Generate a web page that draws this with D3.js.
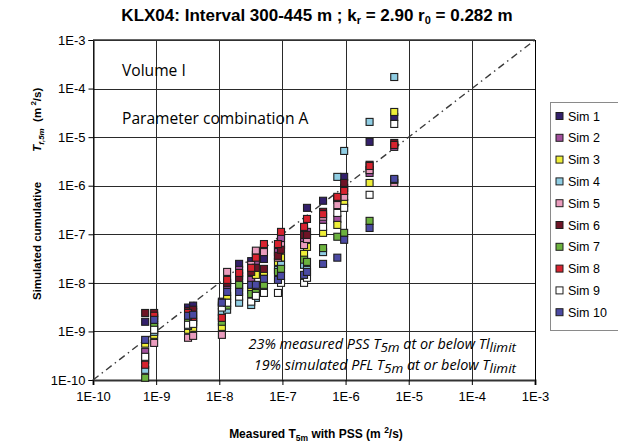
<!DOCTYPE html>
<html>
<head>
<meta charset="utf-8">
<script src="https://cdn.jsdelivr.net/npm/d3@7"></script>
<style>
  body { margin: 0; background: #fff; }
  svg { display: block; }
  text { font-family: "Liberation Sans", Arial, sans-serif; }
</style>
</head>
<body>
<svg id="chart" width="618" height="446"></svg>
<script>
// Measured T5m (PSS) for each test section, m2/s
const measured = [6.7e-10, 9.3e-10, 3.2e-9, 3.85e-9, 1.1e-8, 1.33e-8, 2.06e-8, 3.2e-8, 3.8e-8, 5.1e-8,
                  8.5e-8, 9.5e-8, 2.2e-7, 2.45e-7, 4.4e-7, 7.4e-7, 9.5e-7, 2.4e-6, 5.9e-6];

// Simulated cumulative Tf,5m per realisation, same order as `measured`
const sim1  = [1.58e-9, 1.9e-9, 3.1e-9, 3.4e-9, 4.1e-9, 4.7e-9, 2.46e-8, 2.8e-8, 3.8e-8, 3.1e-8,
               4.8e-8, 9.3e-8, 1.23e-7, 3.5e-7, 4.9e-7, 5.1e-7, 1.52e-6, 8.0e-6, 2.6e-5];
const sim2  = [3.8e-10, 1.37e-9, 1.9e-9, 2.5e-9, 2.1e-9, 9.1e-9, 1.85e-8, 1.15e-8, 2.7e-8, 5.2e-8,
               4.3e-8, 8.4e-8, 7.7e-8, 1.12e-7, 1.98e-7, 2.07e-7, 9.0e-7, 1.83e-6, 6.3e-6];
const sim3  = [5.6e-10, 8.5e-10, 1.08e-9, 1.19e-9, 1.24e-9, 5.4e-9, 7.9e-9, 7.2e-9, 1.46e-8, 1.68e-8,
               2.7e-8, 3.3e-8, 3.95e-8, 5.5e-8, 1.07e-7, 1.56e-7, 4.4e-7, 1.14e-6, 3.3e-5];
const sim4  = [1.62e-10, 9.8e-10, 1.3e-9, 1.58e-9, 2.5e-9, 2.8e-9, 3.9e-9, 3.5e-9, 4.9e-9, 7.2e-9,
               1.85e-8, 2.35e-8, 2.35e-8, 1.85e-8, 4.3e-8, 1.52e-6, 5.2e-6, 2.06e-5, 1.73e-4];
const sim5  = [2.6e-10, 5.8e-10, 7.4e-10, 8.1e-10, 8.5e-10, 1.68e-8, 1.39e-8, 2.35e-8, 4.6e-8, 4.3e-8,
               3.3e-8, 6.0e-8, 6.0e-8, 8.0e-8, 2.3e-7, 4.0e-7, 5.9e-7, 2.1e-6, 1.14e-6];
const sim6  = [2.4e-9, 2.4e-9, 2.65e-9, 2.8e-9, 3.4e-9, 1.0e-8, 1.21e-8, 1.68e-8, 2.04e-8, 1.94e-8,
               3.6e-8, 4.8e-8, 9.7e-8, 9.7e-8, 2.9e-7, 5.6e-7, 1.14e-6, 2.7e-6, 7.6e-6];
const sim7  = [1.11e-10, 1.24e-9, 1.58e-9, 1.9e-9, 1.58e-9, 3.4e-9, 9.1e-9, 5.9e-9, 6.2e-9, 9.1e-9,
               1.68e-8, 1.94e-8, 3.0e-8, 2.7e-8, 5.2e-8, 8.9e-8, 1.07e-7, 1.89e-7, 1.32e-6];
const sim8  = [2.06e-10, 2.1e-9, 2.4e-9, 1.73e-9, 1.9e-9, 1.15e-8, 1.6e-8, 2.04e-8, 3.3e-8, 6.3e-8,
               6.3e-8, 1.12e-7, 1.42e-7, 2.07e-7, 2.6e-7, 5.9e-7, 7.8e-7, 2.55e-6, 6.9e-6];
const sim9  = [3.0e-10, 1.08e-9, 1.37e-9, 1.43e-9, 3.1e-9, 3.9e-9, 5.2e-9, 4.1e-9, 5.4e-9, 6.2e-9,
               6.2e-9, 1.0e-8, 1.0e-8, 1.27e-8, 1.42e-7, 2.75e-7, 3.5e-7, 6.5e-7, 1.87e-5];
const sim10 = [6.7e-10, 1.73e-9, 2.1e-9, 2.2e-9, 3.9e-9, 6.5e-9, 6.5e-9, 9.1e-9, 9.1e-9, 1.21e-8,
               1.15e-8, 1.39e-8, 1.46e-8, 1.68e-8, 2.46e-8, 3.3e-8, 7.7e-8, 1.35e-7, 1.38e-6];

const seriesNames = ["Sim 1", "Sim 2", "Sim 3", "Sim 4", "Sim 5", "Sim 6", "Sim 7", "Sim 8", "Sim 9", "Sim 10"];
const seriesValues = [sim1, sim2, sim3, sim4, sim5, sim6, sim7, sim8, sim9, sim10];
const seriesColors = ["#33206b", "#a24f9c", "#eeee38", "#8fcde3", "#ea9cbd",
                      "#6e1426", "#6cb23e", "#d8232f", "#ffffff", "#4b4aa3"];

const tickValues = [1e-10, 1e-9, 1e-8, 1e-7, 1e-6, 1e-5, 1e-4, 1e-3];
const tickLabels = ["1E-10", "1E-9", "1E-8", "1E-7", "1E-6", "1E-5", "1E-4", "1E-3"];

const svg = d3.select("#chart");
const plot = { left: 93, right: 535, top: 40, bottom: 380 };

const x = d3.scaleLog().domain([1e-10, 1e-3]).range([plot.left, plot.right]);
const y = d3.scaleLog().domain([1e-10, 1e-3]).range([plot.bottom, plot.top]);

// Title
const title = svg.append("text")
  .attr("x", 317).attr("y", 21)
  .attr("text-anchor", "middle")
  .attr("font-size", 17).attr("font-weight", "bold");
title.append("tspan").text("KLX04: Interval 300-445 m ; k");
title.append("tspan").attr("font-size", 11).attr("dy", 3).text("r");
title.append("tspan").attr("dy", -3).text(" = 2.90 r");
title.append("tspan").attr("font-size", 11).attr("dy", 3).text("0");
title.append("tspan").attr("dy", -3).text(" = 0.282 m");

// Grid
const grid = svg.append("g").attr("stroke", "#2a2a2a").attr("stroke-width", 1).attr("shape-rendering", "crispEdges");
grid.selectAll("line.h").data(tickValues).join("line")
  .attr("x1", plot.left).attr("x2", plot.right)
  .attr("y1", d => Math.round(y(d)) + 0.5).attr("y2", d => Math.round(y(d)) + 0.5);
grid.selectAll("line.v").data(tickValues).join("line")
  .attr("y1", plot.top).attr("y2", plot.bottom)
  .attr("x1", d => Math.round(x(d)) + 0.5).attr("x2", d => Math.round(x(d)) + 0.5);

// Axes
const tickFont = 13;
const yAxis = d3.axisLeft(y).tickValues(tickValues)
  .tickFormat((d, i) => tickLabels[i]).tickSize(5).tickPadding(3);
const gy = svg.append("g").attr("transform", `translate(${plot.left + 0.5},0)`).call(yAxis);
gy.select(".domain").attr("stroke", "#000");
gy.selectAll(".tick line").attr("stroke", "#000");
gy.selectAll(".tick text").attr("font-size", tickFont).attr("fill", "#000")
  .style("font-family", "'Liberation Sans', Arial, sans-serif");

const xAxis = d3.axisBottom(x).tickValues(tickValues)
  .tickFormat((d, i) => tickLabels[i]).tickSize(5).tickPadding(7);
const gx = svg.append("g").attr("transform", `translate(0,${plot.bottom})`).call(xAxis);
gx.select(".domain").attr("stroke", "#333").attr("stroke-width", 2);
gx.selectAll(".tick line").attr("stroke", "#000");
gx.selectAll(".tick text").attr("font-size", tickFont).attr("fill", "#000")
  .style("font-family", "'Liberation Sans', Arial, sans-serif");

// Plot frame (top and right)
svg.append("line").attr("x1", plot.left).attr("x2", plot.right)
  .attr("y1", plot.top).attr("y2", plot.top).attr("stroke", "#333").attr("stroke-width", 1.5);
svg.append("line").attr("x1", plot.right + 0.5).attr("x2", plot.right + 0.5)
  .attr("y1", plot.top).attr("y2", plot.bottom).attr("stroke", "#000");

// 1:1 reference line
svg.append("line")
  .attr("x1", x(1e-10)).attr("y1", y(1e-10))
  .attr("x2", x(1e-3)).attr("y2", y(1e-3))
  .attr("stroke", "#3a3a3a").attr("stroke-width", 1.4)
  .attr("stroke-dasharray", "7,4,1.5,4");

// Markers, later realisations drawn on top
const msize = 7;
seriesValues.forEach((vals, si) => {
  svg.append("g").selectAll("rect").data(vals).join("rect")
    .attr("x", (d, i) => x(measured[i]) - msize / 2)
    .attr("y", d => y(d) - msize / 2)
    .attr("width", msize).attr("height", msize)
    .attr("fill", seriesColors[si])
    .attr("stroke", "#1e1e1e").attr("stroke-width", 1.1);
});

// In-plot annotations
const noteFont = "'Open Sans', Lato, sans-serif";
svg.append("text").attr("x", 122).attr("y", 76)
  .attr("font-size", 15.6).style("font-family", noteFont).text("Volume I");
svg.append("text").attr("x", 122).attr("y", 124)
  .attr("font-size", 15.6).style("font-family", noteFont).text("Parameter combination A");

function italicNote(yPos, parts) {
  const t = svg.append("text").attr("x", 516).attr("y", yPos)
    .attr("text-anchor", "end").attr("font-size", 14.4)
    .attr("font-style", "italic").style("font-family", noteFont);
  parts.forEach(p => {
    const s = t.append("tspan").text(p.t);
    if (p.sub) s.attr("dy", 3).attr("font-size", 13.5);
    if (p.back) s.attr("dy", -3);
  });
}
italicNote(349, [
  { t: "23% measured PSS T" }, { t: "5m", sub: true }, { t: " at or below Tl", back: true },
  { t: "limit", sub: true }
]);
italicNote(370, [
  { t: "19% simulated PFL T" }, { t: "5m", sub: true }, { t: " at or below T", back: true },
  { t: "limit", sub: true }
]);

// Axis titles
const xt = svg.append("text").attr("x", 316).attr("y", 438)
  .attr("text-anchor", "middle").attr("font-size", 12).attr("font-weight", "bold");
xt.append("tspan").text("Measured T");
xt.append("tspan").attr("font-size", 8.5).attr("dy", 3).text("5m");
xt.append("tspan").attr("dy", -3).text(" with PSS (m ");
xt.append("tspan").attr("font-size", 8.5).attr("dy", -5).text("2");
xt.append("tspan").attr("dy", 5).text("/s)");

const yt = svg.append("text")
  .attr("transform", "translate(41,300) rotate(-90)")
  .attr("text-anchor", "start").attr("font-size", 11.5).attr("font-weight", "bold")
  .attr("xml:space", "preserve");
yt.append("tspan").text("Simulated cumulative");
yt.append("tspan").attr("dx", 30).attr("font-style", "italic").text("T");
yt.append("tspan").attr("font-style", "italic").attr("font-size", 8).attr("dy", 3).text("f,5m");
yt.append("tspan").attr("dy", -3).text("  (m");
yt.append("tspan").attr("font-size", 8).attr("dy", -5).text(" 2");
yt.append("tspan").attr("dy", 5).text("/s)");

// Legend
const legend = svg.append("g");
legend.append("rect").attr("x", 550.5).attr("y", 102.5).attr("width", 80).attr("height", 228)
  .attr("fill", "#fff").attr("stroke", "#8a8a8a");
const items = legend.selectAll("g.item").data(seriesNames).join("g")
  .attr("transform", (d, i) => `translate(0,${116 + i * 21.8})`);
items.append("rect").attr("x", 556).attr("y", -3.5).attr("width", 7).attr("height", 7)
  .attr("fill", (d, i) => seriesColors[i]).attr("stroke", "#1e1e1e").attr("stroke-width", 1);
items.append("text").attr("x", 568).attr("y", 4.5).attr("font-size", 12.5).text(d => d);
</script>
</body>
</html>
